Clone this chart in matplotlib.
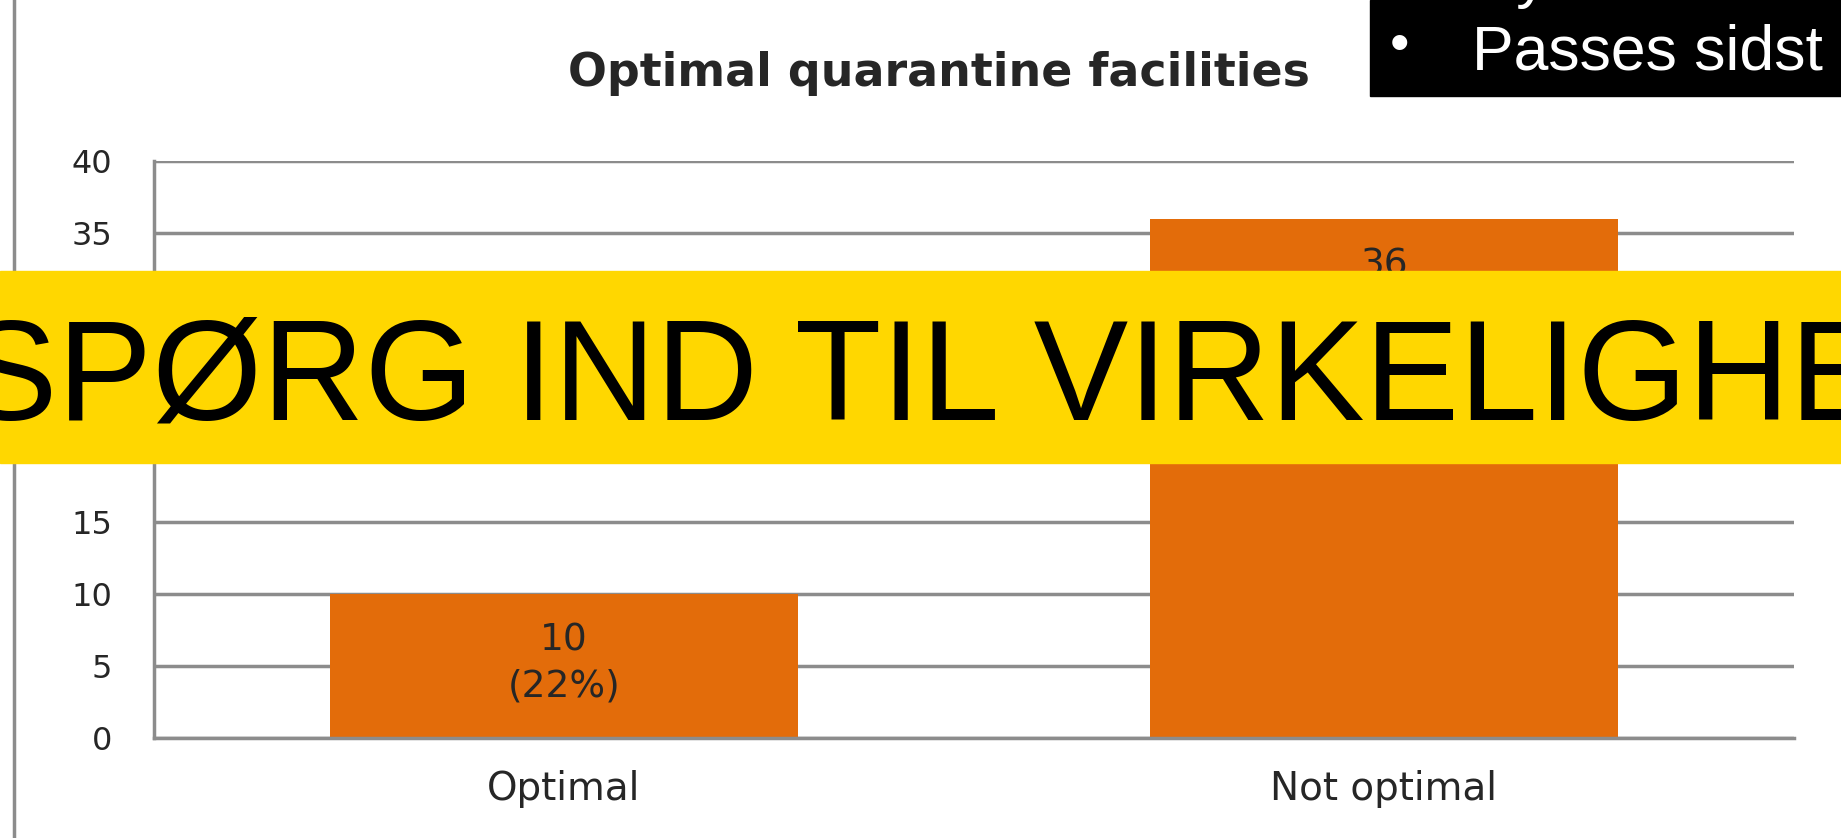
import matplotlib
matplotlib.use("Agg")
import matplotlib.pyplot as plt
from matplotlib.patches import Rectangle
from matplotlib.lines import Line2D

categories = ["Optimal", "Not optimal"]
counts = [10, 36]
pct_labels = ["10\n(22%)", "36\n(78%)"]
yticks = [0, 5, 10, 15, 20, 25, 30, 35, 40]
title = "Optimal quarantine facilities"
banner_text = "SPØRG IND TIL VIRKELIGHEDEN"
box_text = "Passes sidst"

W, H = 1841, 838
fig = plt.figure(figsize=(W / 100, H / 100), dpi=100)
fig.patch.set_facecolor("white")

grey = "#8c8c8c"
orange = "#E36C0A"
dark = "#262626"

# slide border line on the far left
fig.add_artist(Line2D([14 / W, 14 / W], [0, 1], color=grey, lw=2.5))

ax = fig.add_axes([154 / W, 100 / H, 1640 / W, 577 / H])
x = list(range(len(categories)))
ax.bar(x, counts, width=0.57, color=orange, zorder=2)
ax.set_xlim(-0.5, 1.5)
ax.set_ylim(0, 40)
ax.set_yticks(yticks)
ax.yaxis.grid(True, color=grey, lw=2.5, zorder=0)
ax.set_axisbelow(True)
for s in ["top", "right"]:
    ax.spines[s].set_visible(False)
for s in ["left", "bottom"]:
    ax.spines[s].set_color(grey)
    ax.spines[s].set_linewidth(2.5)
ax.set_xticks(x)
ax.set_xticklabels(categories)
ax.tick_params(axis="y", length=0, pad=30, labelsize=23, labelcolor=dark)
ax.tick_params(axis="x", length=0, pad=23, labelsize=28, labelcolor=dark)

for xi, c, lab in zip(x, counts, pct_labels):
    ax.annotate(lab, (xi, c), xytext=(0, -21), textcoords="offset points",
                ha="center", va="top", fontsize=27, color=dark, linespacing=1.35)

fig.text(939 / W, 1 - 73 / H, title, ha="center", va="center",
         fontsize=33, fontweight="bold", color=dark)

# black box top right
fig.add_artist(Rectangle((1370 / W, 1 - 96 / H), (W - 1370) / W, 96 / H,
                         transform=fig.transFigure, color="black", zorder=5))
fig.text(1400 / W, 1 - 47 / H, "\u2022", ha="center", va="center",
         fontsize=40, color="white", family="Liberation Sans", zorder=6)
fig.text(1472 / W, 1 - 69 / H, box_text, ha="left", va="baseline",
         fontsize=45, color="white", family="Liberation Sans", zorder=6)
fig.text(1472 / W, 1 + 4 / H, "Ny", ha="left", va="baseline",
         fontsize=45, color="white", family="Liberation Sans", zorder=6)

# yellow banner
fig.add_artist(Rectangle((0, 1 - 463 / H), 1, 192 / H,
                         transform=fig.transFigure, color="#FFD700", zorder=7))
fig.text(-37 / W, 0.5, banner_text, ha="left", va="baseline",
         fontsize=102, color="black", family="Liberation Sans", zorder=8)

fig.savefig("out.png", dpi=100)
